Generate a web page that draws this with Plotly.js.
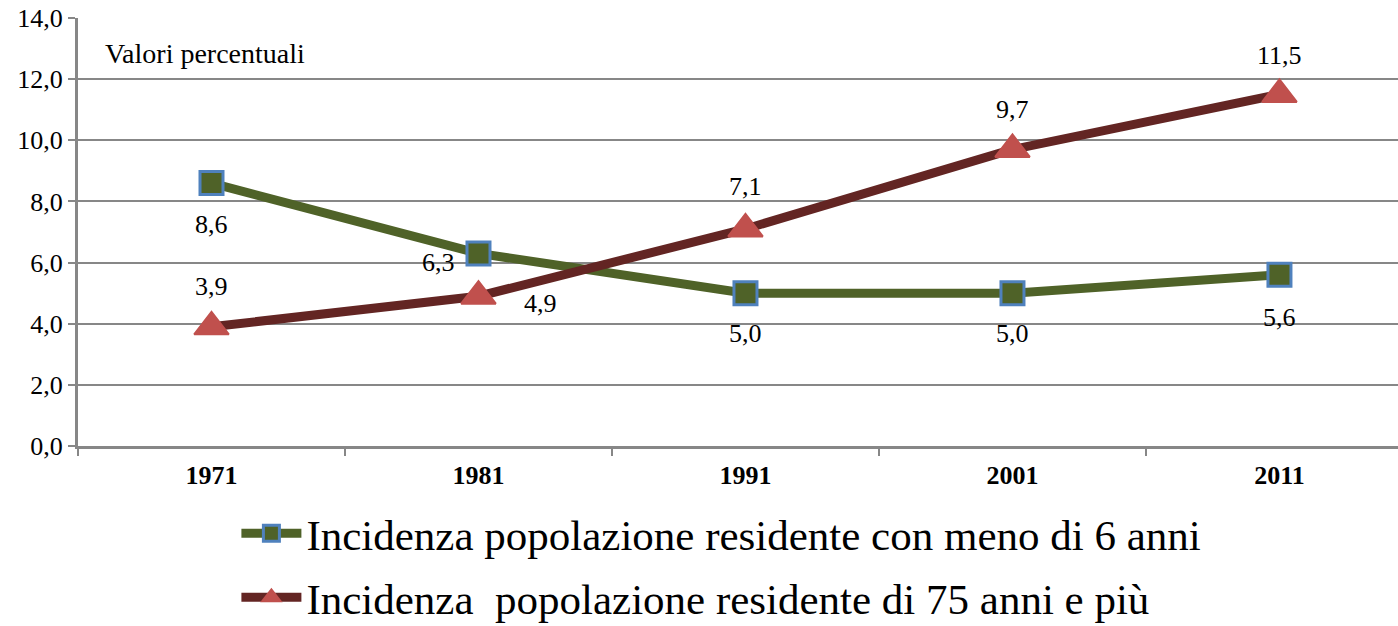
<!DOCTYPE html>
<html>
<head>
<meta charset="utf-8">
<script src="https://cdn.plot.ly/plotly-3.0.1.min.js"></script>
<style>
  html, body { margin: 0; padding: 0; background: #fff; }
  #chart { width: 1398px; height: 626px; }
</style>
</head>
<body>
<div id="chart"></div>
<script>
// data
const years = ['1971', '1981', '1991', '2001', '2011'];
const under6 = [8.6, 6.3, 5.0, 5.0, 5.6];
const over75 = [3.9, 4.9, 7.1, 9.7, 11.5];
const under6Name = 'Incidenza popolazione residente con meno di 6 anni';
const over75Name = 'Incidenza\u00a0 popolazione residente di 75 anni e più';

// label offsets (px) for each point's value label
const under6Shift = [[0, -41], [-40, -9], [0, -40], [0, -40], [0, -43]];
const over75Shift = [[0, 40], [62, -7], [0, 42], [0, 40], [0, 39]];

const serif = "'Liberation Serif', 'Times New Roman', serif";
const grey = '#878787';

function fmt(v) {
  return v.toFixed(1).replace('.', ',');
}

const data = [
  {
    x: years,
    y: under6,
    name: under6Name,
    legendgroup: 'a',
    type: 'scatter',
    mode: 'lines+markers',
    line: { color: '#4f6228', width: 9 },
    marker: { symbol: 'square', size: 23, color: '#4f6228', line: { color: '#4f81bd', width: 3 } }
  },
  {
    x: years,
    y: over75,
    name: over75Name,
    legendgroup: 'b',
    type: 'scatter',
    mode: 'lines+markers',
    line: { color: '#632523', width: 9 },
    marker: { symbol: 'triangle-up', size: 30, color: '#c0504d', line: { color: '#c0504d', width: 2 } }
  }
];

// value labels, placed on category index
const annotations = [];
years.forEach(function (yr, i) {
  annotations.push({
    x: i, y: under6[i], text: fmt(under6[i]), showarrow: false,
    xshift: under6Shift[i][0], yshift: under6Shift[i][1],
    font: { family: serif, size: 26, color: '#000' }
  });
  annotations.push({
    x: i, y: over75[i], text: fmt(over75[i]), showarrow: false,
    xshift: over75Shift[i][0], yshift: over75Shift[i][1],
    font: { family: serif, size: 26, color: '#000' }
  });
});
annotations.push({
  xref: 'paper', yref: 'paper', x: 0.019, y: 0.918,
  xanchor: 'left', yanchor: 'middle', showarrow: false,
  text: 'Valori percentuali',
  font: { family: serif, size: 28, color: '#000' }
});

const layout = {
  width: 1398,
  height: 626,
  margin: { l: 78, r: 0, t: 18, b: 180, autoexpand: false },
  paper_bgcolor: '#fff',
  plot_bgcolor: '#fff',
  separators: ',.',
  font: { family: serif, size: 26, color: '#000' },
  showlegend: true,
  legend: {
    orientation: 'v',
    traceorder: 'grouped',
    tracegroupgap: 5,
    x: 0.12, y: -0.4344,
    xanchor: 'left', yanchor: 'bottom',
    itemwidth: 60,
    borderwidth: 0,
    font: { family: serif, size: 43, color: '#000' },
    bgcolor: 'rgba(0,0,0,0)'
  },
  xaxis: {
    type: 'category',
    range: [-0.5, 4.444],
    showgrid: false,
    showline: true, linecolor: grey, linewidth: 3,
    ticks: 'outside', tickson: 'boundaries', ticklen: 7, tickcolor: grey, tickwidth: 2,
    ticklabelstandoff: 4,
    tickfont: { family: serif, size: 26, color: '#000', weight: 'bold' },
    fixedrange: true
  },
  yaxis: {
    range: [0, 14],
    dtick: 2,
    tickformat: '.1f',
    showgrid: true, gridcolor: grey, gridwidth: 2,
    zeroline: false,
    showline: true, linecolor: grey, linewidth: 3,
    ticks: 'outside', ticklen: 7, tickcolor: grey, tickwidth: 2,
    tickfont: { family: serif, size: 26, color: '#000' },
    fixedrange: true
  },
  annotations: annotations
};

Plotly.newPlot('chart', data, layout, { displayModeBar: false, staticPlot: true });
</script>
</body>
</html>
